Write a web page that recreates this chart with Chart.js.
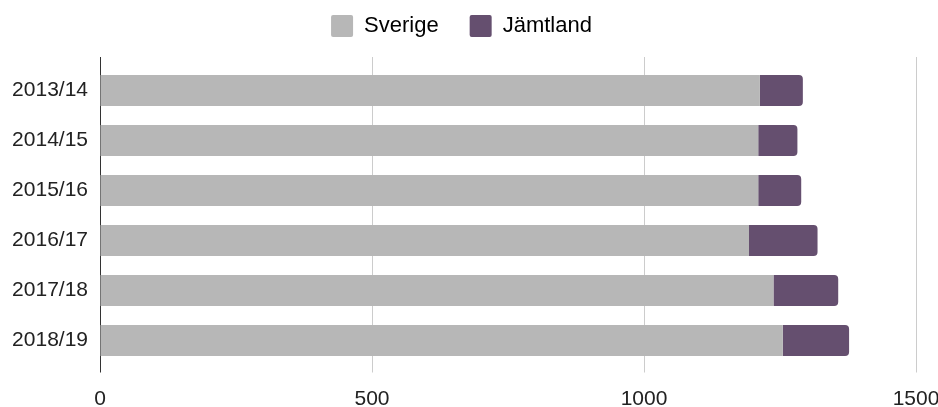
<!DOCTYPE html>
<html>
<head>
<meta charset="utf-8">
<script src="https://cdn.jsdelivr.net/npm/chart.js@4.4.1/dist/chart.umd.min.js"></script>
<style>
  html, body { margin: 0; padding: 0; background: #ffffff; }
  #wrap { width: 938px; height: 407px; }
</style>
</head>
<body>
<div id="wrap"><canvas id="c" width="938" height="407"></canvas></div>
<script>
// Läsår
const seasons = ['2013/14', '2014/15', '2015/16', '2016/17', '2017/18', '2018/19'];
// Sverige
const sverige = [1213, 1210, 1210, 1193, 1238, 1255];
// Jämtland
const jamtland = [79, 72, 79, 126, 119, 122];
// Värden på x-axeln
const xTicks = [0, 500, 1000, 1500];

const FONT = "'Liberation Sans', Arial, sans-serif";
const GRID = '#cccccc';
const ZERO = '#333333';

const lineColor = (ctx) => (ctx.tick && ctx.tick.value === 0 ? ZERO : GRID);

new Chart(document.getElementById('c'), {
  type: 'bar',
  data: {
    labels: seasons,
    datasets: [
      {
        label: 'Sverige',
        data: sverige,
        backgroundColor: '#b7b7b7',
        borderWidth: 0,
        barPercentage: 0.62,
        categoryPercentage: 1.0
      },
      {
        label: 'Jämtland',
        data: jamtland,
        backgroundColor: '#654f6f',
        borderWidth: 0,
        borderRadius: 4,
        barPercentage: 0.62,
        categoryPercentage: 1.0
      }
    ]
  },
  options: {
    indexAxis: 'y',
    responsive: false,
    animation: false,
    layout: { padding: { left: -30, right: -15, top: -16, bottom: 0 } },
    plugins: {
      tooltip: { enabled: false },
      legend: {
        position: 'top',
        align: 'center',
        labels: {
          font: { family: FONT, size: 22 },
          color: '#222222',
          boxWidth: 22,
          boxHeight: 22,
          padding: 31,
          generateLabels: (chart) => chart.data.datasets.map((ds, i) => ({
            text: ds.label,
            fillStyle: ds.backgroundColor,
            strokeStyle: ds.backgroundColor,
            lineWidth: 0,
            borderRadius: 2,
            datasetIndex: i,
            hidden: false
          }))
        }
      }
    },
    scales: {
      x: {
        type: 'linear',
        position: 'bottom',
        stacked: true,
        min: 0,
        max: 1500,
        afterBuildTicks: (s) => { s.ticks = xTicks.map(v => ({ value: v })); },
        afterFit: (s) => { s.height = 41.5; s.paddingRight = 22; },
        border: { display: false },
        grid: {
          color: lineColor,
          tickColor: lineColor,
          lineWidth: 1,
          drawTicks: true,
          tickLength: 7
        },
        ticks: {
          font: { family: FONT, size: 21 },
          color: '#222222',
          padding: 14,
          maxRotation: 0,
          callback: (v) => String(v)
        }
      },
      x2: {
        type: 'linear',
        position: 'top',
        min: 0,
        max: 1500,
        afterBuildTicks: (s) => { s.ticks = xTicks.map(v => ({ value: v })); },
        afterFit: (s) => { s.height = 18.5; s.paddingRight = 22; },
        border: { display: false },
        grid: {
          drawOnChartArea: false,
          drawTicks: true,
          tickLength: 8.5,
          color: lineColor,
          tickColor: lineColor
        },
        ticks: { display: false }
      },
      y: {
        stacked: true,
        afterFit: (s) => { s.width = 130; },
        border: { display: true, color: ZERO, width: 1 },
        grid: { display: false, drawTicks: false },
        ticks: {
          font: { family: FONT, size: 21 },
          color: '#222222',
          padding: 12
        }
      }
    }
  }
});
</script>
</body>
</html>
